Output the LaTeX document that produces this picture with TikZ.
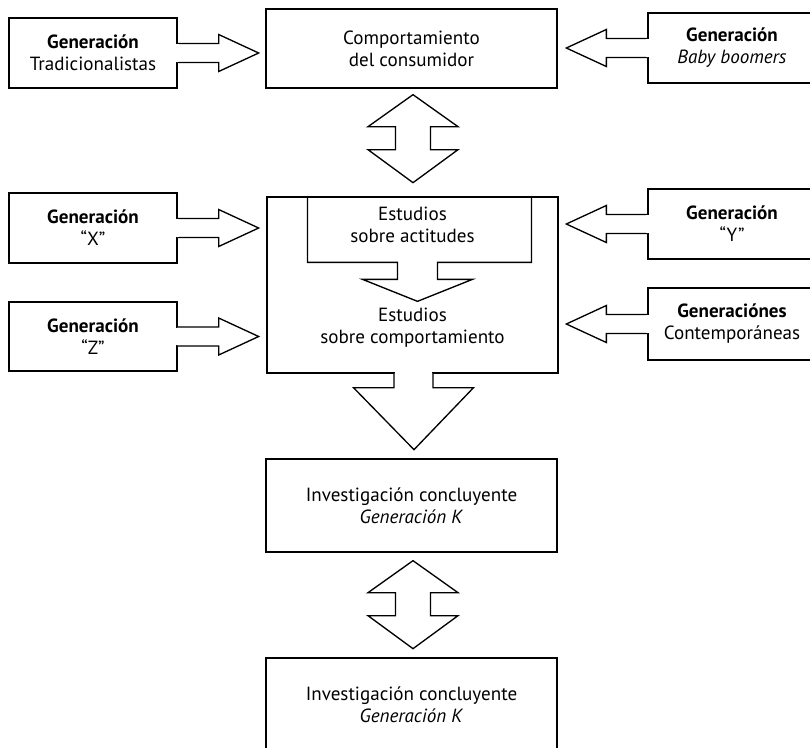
\documentclass[tikz,border=0pt]{standalone}
\usepackage{fontspec}
\setmainfont{PT Sans}
\usetikzlibrary{positioning}

\begin{document}
\begin{tikzpicture}[x=0.75pt, y=-0.75pt,
  font=\fontsize{14.3pt}{16.5pt}\selectfont,
  frame/.style={draw, line width=1pt, align=center, inner sep=0pt},
  genbox/.style={frame, minimum width=126pt, minimum height=52.5pt},
  mainbox/.style={frame, minimum width=218.25pt, minimum height=#1},
  txt/.style={align=center, inner sep=0pt},
  blockarr/.style={draw, line width=1pt, fill=white},
]
\useasboundingbox (0,0) rectangle (810,747);
\clip (0,0) rectangle (810,747);

% central column
\node[mainbox=59.25pt] (cons) at (411.5,48.5) {Comportamiento\\del consumidor};
\node[mainbox=132pt] (estud) at (412.5,285) {};
\node[txt] (actit) at (412.5,225) {Estudios\\sobre actitudes};
\node[txt] (compor) at (412.5,328) {Estudios\\sobre comportamiento};
\node[mainbox=69.75pt] (inva) at (411.5,505.5) {Investigación concluyente\\\textit{Generación K}};
\node[mainbox=69.75pt] (invb) at (411.5,704.5) {Investigación concluyente\\\textit{Generación K}};

% generations
\node[genbox] (trad) at (93,53) {\textbf{Generación}\\Tradicionalistas};
\node[genbox] (genx) at (93,228) {\textbf{Generación}\\“X”};
\node[genbox, minimum height=51.75pt] (genz) at (93,336.5) {\textbf{Generación}\\“Z”};
\node[genbox] (boom) at (732,48) {\textbf{Generación}\\\textit{Baby boomers}};
\node[genbox] (geny) at (732,224) {\textbf{Generación}\\“Y”};
\node[genbox, minimum height=54pt] (cont) at (732,324) {\textbf{Generaciónes}\\Contemporáneas};

% side arrows into the central column
\foreach \g/\a/\s in {trad/east/1, genx/east/1, genz/east/1, boom/west/-1, geny/west/-1, cont/west/-1}{
  \begin{scope}[shift={(\g.\a)}, xscale=\s]
    \draw[blockarr] (0,-9.5) -- (41,-9.5) -- (41,-18.5) -- (81,0) -- (41,18.5) -- (41,9.5) -- (0,9.5);
    \fill[white] (-1.5,-8.7) rectangle (1.5,8.7);
  \end{scope}
}

% actitudes -> comportamiento
\begin{scope}[shift={(estud.north)}]
  \draw[line width=1pt] (-105,0) -- (-105,66) -- (-15,66) -- (-15,83) -- (-50,83) -- (5,105)
    -- (60,83) -- (25,83) -- (25,66) -- (119,66) -- (119,0);
\end{scope}

% estudios -> investigacion
\begin{scope}[shift={(estud.south)}]
  \draw[blockarr] (-18.5,0) -- (-18.5,14) -- (-59,14) -- (1.5,76) -- (61,14) -- (20.5,14) -- (20.5,0);
  \fill[white] (-17.7,-1.5) rectangle (19.7,1.5);
\end{scope}

% double arrows
\foreach \u/\d in {cons/6, inva/8}{
  \begin{scope}[shift={(\u.south)}, shift={(1.5,\d)}]
    \draw[blockarr] (0,0) -- (45,32) -- (17.5,32) -- (17.5,55) -- (45,55) -- (0,88)
      -- (-45,55) -- (-17.5,55) -- (-17.5,32) -- (-45,32) -- cycle;
  \end{scope}
}
\end{tikzpicture}
\end{document}
